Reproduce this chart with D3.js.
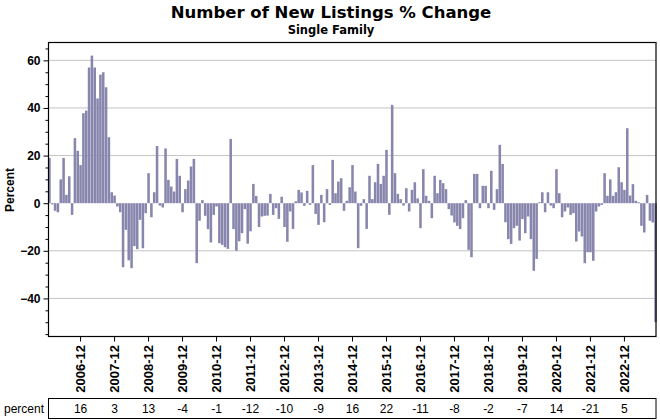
<!DOCTYPE html>
<html><head><meta charset="utf-8">
<script src="https://cdn.jsdelivr.net/npm/d3@7"></script>
<style>body{margin:0;background:#fff}</style>
</head><body>
<svg id="c" width="660" height="420"></svg>
<script>
// Monthly % change, Jan 2006 .. Nov 2023
const years = [2006,2007,2008,2009,2010,2011,2012,2013,2014,2015,2016,2017,2018,2019,2020,2021,2022,2023];
const v2006 = [19, -0.5, -3.2, -3.8, 10, 19, 3.5, 11.3, -4.9, 27.3, 22, 16];
const v2007 = [37.8, 38.9, 57, 62, 57, 44, 54, 55, 48.7, 27.7, 4.6, 3.2];
const v2008 = [-1.4, -3.8, -26.9, -11.2, -24, -27.3, -18, -19.3, -7, -18.9, -4.2, 12.6];
const v2009 = [-5.9, 4.6, 24, -1, -1.8, 23, 9.8, 7, 4.9, 18.6, 11.5, -3.8];
const v2010 = [5.9, 9.5, 15.4, 18.6, -25.2, -7.4, 1.3, -5.3, -10.9, -16.5, -4.9, -1.4];
const v2011 = [-16.8, -17.5, -18.5, -19.2, 27, -10.9, -20, -16, -12.6, -2.5, -17, -11.8];
const v2012 = [8.1, 3, -10, -5.6, -5.3, -5.2, 3.9, -4.9, -2.1, -6.6, 2.7, -10];
const v2013 = [-16.2, -3.5, -10.8, 0.8, 5.6, 4.5, -1.1, 5.2, -0.7, 16, -4.5, -9.1];
const v2014 = [3.5, -8, 5.9, -0.7, 18.2, 4.2, 9.1, 10.5, -3.2, 1, 6.7, 16];
const v2015 = [4.9, -18.9, -1.1, 1.7, -10.8, 11.5, 1.7, 8.8, 16.5, 8.1, 11.5, 22.4];
const v2016 = [-4.9, 41.3, 12.6, 3.9, 1.7, -1, 6.3, -3.5, 5.6, 8.8, 2, -10.5];
const v2017 = [14.3, 3.1, 1, -6.3, 11.5, 4.2, 9.8, 8.4, 5.9, -2.5, -5.2, -8.1];
const v2018 = [-9.5, -10.9, -6.3, 1.3, -19.6, -22.7, 12.3, 12.3, -2.1, 7.3, 7.3, -2.1];
const v2019 = [13.6, -2.8, 5.9, 24.5, 16.5, -8, -15.1, -17.1, -10.5, -9.5, -15.7, -6.7];
const v2020 = [-12.6, -5.6, -15.1, -28.4, -23.4, 0.4, 4.6, -3.8, 4.6, -1, -2.1, 14.3];
const v2021 = [4.2, -5.9, -3.5, -1.8, -4.9, -4.2, -16.1, -11.9, -14, -25.2, -20.6, -20.6];
const v2022 = [-24.2, -3.5, -1.4, -0.7, 12.6, 3.1, 10, 3.1, 4.6, 15.1, 8.8, 5.6];
const v2023 = [31.5, 3.2, 8, 1, 0.4, -9.5, -12.3, 3.5, -7.4, -8.1, -50];

const tickLabels = ["2006-12","2007-12","2008-12","2009-12","2010-12","2011-12","2012-12","2013-12","2014-12","2015-12","2016-12","2017-12","2018-12","2019-12","2020-12","2021-12","2022-12"];
const percentRow = [16, 3, 13, -4, -1, -12, -10, -9, 16, 22, -11, -8, -2, -7, 14, -21, 5];
const yMajor = [-40, -20, 0, 20, 40, 60];
const yGrid = [-40, -20, 20, 40, 60];

const yearly = [v2006,v2007,v2008,v2009,v2010,v2011,v2012,v2013,v2014,v2015,v2016,v2017,v2018,v2019,v2020,v2021,v2022,v2023];
const data = [];
yearly.forEach((arr, yi) => arr.forEach((v, mi) => {
  data.push({key: years[yi] + "-" + String(mi + 1).padStart(2, "0"), value: v});
}));

const svg = d3.select("#c");
const L = 48.5, R = 656, T = 42.5, B = 336.5;

const x = d3.scaleBand().domain(data.map(d => d.key)).range([48, 657]).paddingInner(0.1).paddingOuter(0.05);
const y = d3.scaleLinear().domain([-56, 67.5]).range([B, T]);

// title
svg.append("text").attr("x", 331).attr("y", 18).attr("text-anchor", "middle")
  .style("font-family", "DejaVu Sans").style("font-weight", "bold").style("font-size", "16.5px")
  .text("Number of New Listings % Change");
svg.append("text").attr("x", 331).attr("y", 34).attr("text-anchor", "middle")
  .style("font-family", "DejaVu Sans").style("font-weight", "bold").style("font-size", "11.5px")
  .text("Single Family");

// gridlines
svg.append("g").selectAll("line").data(yGrid).join("line")
  .attr("x1", L).attr("x2", R).attr("y1", d => y(d)).attr("y2", d => y(d))
  .attr("stroke", "#c4c4c4").attr("stroke-width", 1);

// bars
svg.append("g").selectAll("rect").data(data).join("rect")
  .attr("x", d => x(d.key)).attr("width", x.bandwidth())
  .attr("y", d => y(Math.max(0, d.value)))
  .attr("height", d => Math.abs(y(d.value) - y(0)))
  .attr("fill", "#8886ad");

// plot border
svg.append("rect").attr("x", L).attr("y", T).attr("width", R - L).attr("height", B - T)
  .attr("fill", "none").attr("stroke", "#000").attr("stroke-width", 1.2);

// y axis major
const yAxis = svg.append("g").attr("transform", `translate(${L},0)`)
  .call(d3.axisLeft(y).tickValues(yMajor).tickSize(5).tickPadding(3).tickFormat(d3.format("d")));
yAxis.select(".domain").remove();
yAxis.selectAll("text").style("font-family", "Liberation Sans").style("font-weight", "bold").style("font-size", "12px").attr("fill", "#000");
// y axis minor
const minor = d3.range(-55, 67, 5).filter(v => !yMajor.includes(v));
const yMinor = svg.append("g").attr("transform", `translate(${L},0)`)
  .call(d3.axisLeft(y).tickValues(minor).tickSize(3).tickFormat(""));
yMinor.select(".domain").remove();

svg.append("text").attr("transform", "translate(14,190) rotate(-90)").attr("text-anchor", "middle")
  .style("font-family", "Liberation Sans").style("font-weight", "bold").style("font-size", "12px")
  .text("Percent");

// x axis ticks at December bands
const xc = k => x(k) + x.bandwidth() / 2;
const xAxis = svg.append("g").attr("transform", `translate(0,${B})`)
  .call(d3.axisBottom(x).tickValues(tickLabels).tickSize(5).tickFormat(""));
xAxis.select(".domain").remove();
svg.append("g").selectAll("text").data(tickLabels).join("text")
  .attr("transform", d => `translate(${xc(d) + 4.5},345) rotate(-90)`)
  .attr("text-anchor", "end")
  .style("font-family", "Liberation Sans").style("font-weight", "bold").style("font-size", "13px")
  .text(d => d);

// data table
svg.append("rect").attr("x", L).attr("y", 398.5).attr("width", R - L).attr("height", 20)
  .attr("fill", "none").attr("stroke", "#000").attr("stroke-width", 1);
svg.append("text").attr("x", 44).attr("y", 413).attr("text-anchor", "end")
  .style("font-family", "Liberation Sans").style("font-size", "12px").text("percent");
svg.append("g").selectAll("text").data(percentRow).join("text")
  .attr("x", (d, i) => xc(tickLabels[i])).attr("y", 413).attr("text-anchor", "middle")
  .style("font-family", "Liberation Sans").style("font-size", "12px").text(d => d);
</script>
</body></html>
